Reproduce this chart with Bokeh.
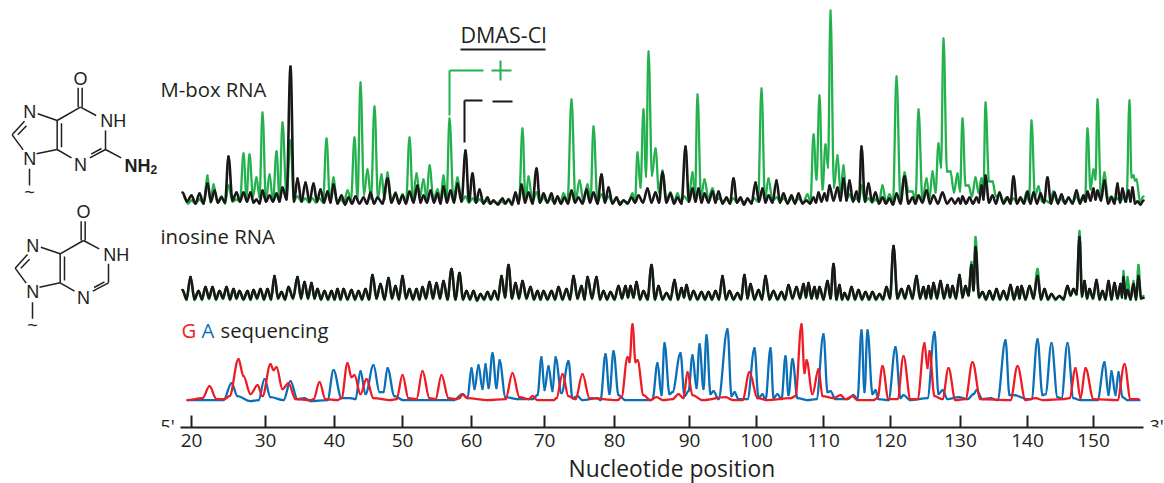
from bokeh.embed import file_html
from bokeh.resources import INLINE
from bokeh.plotting import figure
from bokeh.models import Range1d, LinearAxis, FixedTicker, Label, Title
from bokeh.core.properties import value

tick_scan = [191,265,334,402,471,544,614,689,756,823,890,960,1027,1093]
tick_labels = ["20","30","40","50","60","70","80","90","100","110","120","130","140","150"]

# (scan position, peak height, following trough height)
mbox_black = [(182,12,3),(191,9,1),(199,11,1),(207,21,3),(214,14,2),(221,7,2),(228,48,4),(236,12,3),(243,12,3),(250,12,2),(256,5,1),(262,14,3),(269,9,3),(276,11,3),(282,17,5),(290,138,3),(297,26,3),(305,22,3),(313,21,3),(320,15,2),(327,13,2),(333,20,1),(341,9,0),(348,7,1),(355,8,1),(363,7,1),(370,12,1),(377,7,1),(387,26,2),(395,11,1),(402,9,1),(409,13,2),(417,19,2),(423,9,2),(430,14,2),(437,11,1),(443,18,2),(450,14,2),(457,21,3),(465,54,3),(472,31,2),(479,15,1),(487,7,1),(493,4,0),
 (502,6,1),(508,5,0),(515,12,1),(521,20,2),(528,12,1),(536,36,2),(543,11,2),(551,11,1),(557,8,1),(564,7,1),(571,14,2),(578,7,1),(586,15,2),(593,12,1),(601,30,2),(608,17,1),(616,7,0),(623,4,1),(631,7,2),(638,9,2),(647,16,2),(655,12,2),(662,32,2),(670,11,1),(677,7,1),(685,58,3),(692,16,3),(698,16,2),(704,11,2),(712,13,2),(718,13,1),(726,7,1),(733,26,2),(740,7,0),(747,6,1),(755,22,3),(762,16,2),(768,9,2),(776,24,2),(783,11,1),(791,9,1),(798,11,1),(806,4,1),(813,7,2),(818,12,3),(824,11,4),
 (829,19,4),(837,17,4),(843,26,4),(849,24,3),(856,13,3),(861,58,3),(868,21,3),(875,12,1),(882,7,1),(889,6,0),(896,11,1),(904,28,1),(912,7,1),(918,9,2),(926,14,1),(933,9,1),(942,12,1),(951,6,1),(958,6,1),(962,8,1),(969,7,1),(976,7,2),(981,19,5),(985,29,2),(992,9,1),(999,12,1),(1007,7,1),(1013,28,1),(1020,7,1),(1027,13,1),(1033,12,1),(1040,11,2),(1047,27,1),(1054,12,1),(1061,10,1),(1068,7,1),(1076,14,1),(1083,9,3),(1087,13,4),(1093,16,5),(1097,14,4),(1104,24,1),(1111,7,1),(1117,21,2),(1122,16,3),(1128,14,3),(1132,17,1),(1137,3,0),(1143,4,3)]

mbox_green = [(184,7,1),(191,4,1),(199,5,1),(207,29,2),(213,20,2),(221,8,1),(228,19,3),(236,5,3),(243,51,8),(249,50,8),(256,27,7),(262,92,4),(269,30,4),(276,53,6),(282,82,9),(290,64,4),(297,8,3),(305,6,2),(312,6,2),(319,6,2),(326,66,3),(333,27,2),(340,5,2),(347,14,5),(354,67,6),(360,122,10),(367,35,6),(374,98,6),(381,30,5),(387,32,2),(395,12,2),(402,10,2),(409,67,3),(416,31,8),(423,25,6),(429,39,5),(437,15,5),(443,29,3),(449,86,4),(457,27,3),(465,8,2),(472,6,2),(479,5,2),(486,4,1),(493,3,1),(500,4,1),(508,5,2),(515,10,3),(522,76,3),(528,28,3),(536,12,2),(543,7,2),(550,6,2),(557,7,2),(563,11,3),(571,105,3),(579,24,3),(587,20,3),(593,78,3),(601,10,3),(608,8,2),(616,5,2),(623,4,2),(632,11,3),(637,52,17),(643,95,28),(648,153,29),(655,56,12),(662,34,5),(670,12,3),(677,11,3),(684,8,3),(692,32,8),(697,110,8),(704,25,6),(712,16,5),(719,6,3),(726,5,2),(733,6,2),(740,5,2),(747,5,2),(754,6,3),(761,116,5),(768,26,4),(776,7,3),(783,6,2),(791,6,2),(798,6,2),(807,10,3),(813,70,25),(819,109,15),(825,60,37),(830,194,17),(837,49,12),(843,39,5),(849,10,4),(856,6,3),(861,19,3),(868,6,2),(875,5,2),(882,19,3),(889,10,3),(896,128,4),(904,32,13),(912,13,3),(918,95,4),(926,26,6),(932,33,12),(938,61,37),(943,166,33),(950,33,12),(957,31,13),(962,86,19),(968,19,8),(975,27,12),(981,26,17),(985,102,23),(992,23,8),(999,10,3),(1006,7,2),(1013,6,2),(1020,5,2),(1026,12,3),(1031,84,8),(1038,18,3),(1045,4,2),(1053,13,3),(1060,6,2),(1068,6,2),(1076,8,2),(1082,7,3),(1087,76,15),(1093,35,25),(1097,105,8),(1104,32,6),(1111,8,4),(1117,6,3),(1123,8,3),(1129,104,27),(1133,29,24),(1136,25,3),(1143,8,0)]

inosine_black = [(182,10,1),(190,23,1),(198,9,1),(205,13,2),(212,13,1),(219,9,2),(226,13,1),(233,11,2),(239,9,1),(247,9,1),(253,10,2),(260,11,1),(267,11,1),(274,24,2),(281,8,1),(288,13,2),(297,23,2),(304,18,2),(311,17,2),(317,11,1),(324,9,1),(331,9,1),(337,11,1),(343,11,1),(351,10,1),(358,9,1),(365,11,1),(372,25,2),(380,16,1),(388,22,2),(395,14,1),(402,24,2),(409,11,1),(416,11,1),(422,13,2),(429,18,2),(436,17,2),(443,19,1),(451,31,1),(459,27,1),(466,9,1),(473,9,0),(480,6,1),(487,8,1),(494,9,1),(501,24,3),(508,35,2),(515,17,2),(522,19,2),(530,13,1),(537,9,1),(543,9,1),(551,9,1),(558,13,1),(566,11,1),(573,24,2),(581,14,1),(587,23,2),(596,23,1),(603,9,1),(610,8,1),(618,14,2),(625,14,3),(630,14,3),(636,18,1),(643,9,1),(651,35,1),(658,14,1),(666,7,1),(674,20,1),(681,12,3),(686,15,1),(693,9,1),(701,8,1),(708,8,1),(715,9,1),(722,24,1),(729,9,1),(737,7,1),(744,25,2),(750,16,1),(758,10,1),(765,24,1),(773,9,1),(781,8,1),(788,15,2),(796,13,2),(803,16,3),(808,17,2),(814,13,2),(819,13,1),(827,19,2),(833,36,1),(839,15,1),(844,7,1),(851,13,1),(858,10,1),(865,8,1),(872,8,1),(879,6,1),(886,13,2),(893,54,2),(901,11,2),(908,14,2),(916,24,2),(923,13,2),(928,14,2),(933,17,2),(940,19,2),(947,15,3),(952,14,2),(959,25,3),(965,14,5),(971,35,10),(975,53,3),(982,8,1),(989,9,1),(996,11,1),(1003,9,1),(1010,15,1),(1017,13,2),(1021,14,1),(1029,14,2),(1037,24,1),(1044,11,1),(1051,6,1),(1059,4,1),(1067,14,5),(1073,11,6),(1079,63,4),(1084,19,2),(1089,11,2),(1096,20,1),(1102,9,1),(1108,19,1),(1114,17,2),(1120,16,3),(1123,23,2),(1127,10,1),(1133,16,1),(1138,24,2),(1143,2,2)]

# green peaks standing above the black inosine trace
inosine_green_peaks = {971:38, 975:63, 1037:31, 1079:69, 1123:29, 1127:23, 1133:19, 1138:35, 1143:4}

seq_red = [(187,1),(202,3),(209,15),(216,2),(224,2),(229,5),(238,42),(243,25),(250,7),(257,16),(262,5),(270,37),(273,31),(276,34),(282,12),(288,18),(295,2),(310,1),(313,2),(319,19),(325,2),(337,1),(341,3),(347,38),(351,24),(354,26),(360,7),(366,22),(373,3),(390,1),(396,2),(402,26),(408,3),(416,2),(422,30),(429,3),(435,2),(441,26),(448,3),(456,2),(459,3),(462,7),(467,3),(487,1),(505,2),(512,28),(519,4),(528,2),(532,5),(537,1),(553,1),(556,3),(562,27),(568,5),(575,2),(582,27),(589,3),(617,1),(621,4),(627,44),(629,39),(632,77),(635,39),(637,41),(643,6),(650,1),(656,4),(663,1),(672,2),(678,7),(683,3),(687,29),(692,6),(702,1),(725,4),(733,1),(742,1),(749,29),(757,3),(767,1),(790,3),(795,5),(801,77),(804,28),(806,41),(812,7),(818,32),(822,5),(833,3),(840,6),(845,2),(852,5),(857,1),(873,1),(877,3),(882,35),(888,2),(897,2),(903,45),(910,2),(917,2),(924,58),(927,33),(929,50),(934,5),(942,2),(948,33),(955,1),(965,2),(972,39),(980,2),(1010,1),(1017,35),(1025,1),(1035,3),(1043,1),(1063,2),(1069,3),(1075,33),(1080,3),(1085,33),(1093,2),(1117,1),(1124,37),(1130,2),(1138,2)]

seq_blue = [(187,1),(203,1),(223,1),(231,18),(237,5),(250,0),(258,1),(264,22),(270,4),(283,1),(290,20),(297,2),(304,3),(310,0),(327,1),(333,31),(341,3),(350,3),(355,2),(360,30),(365,7),(373,36),(379,9),(383,9),(387,33),(394,5),(403,1),(453,1),(462,7),(467,3),(471,33),(474,12),(478,36),(482,12),(485,37),(488,13),(492,48),(496,13),(499,41),(505,4),(517,2),(532,2),(537,6),(541,44),(544,11),(548,35),(552,10),(555,44),(561,8),(568,40),(572,3),(577,5),(582,1),(597,3),(600,1),(605,47),(609,7),(613,50),(618,6),(625,1),(650,1),(652,2),(657,38),(661,6),(664,58),(669,7),(672,9),(680,48),(684,5),(688,10),(692,46),(696,13),(699,57),(703,12),(706,66),(710,7),(713,10),(718,2),(727,72),(731,5),(734,9),(738,2),(747,2),(754,53),(758,3),(762,7),(765,1),(770,53),(773,3),(777,7),(781,2),(785,45),(788,6),(792,42),(797,3),(807,1),(816,2),(823,67),(827,9),(830,10),(835,2),(847,2),(853,6),(857,2),(861,71),(864,9),(867,71),(872,7),(875,11),(878,2),(888,1),(895,54),(900,3),(903,6),(910,1),(927,3),(934,69),(938,7),(942,11),(947,2),(958,4),(967,2),(973,7),(976,11),(982,2),(990,3),(997,1),(1005,61),(1009,6),(1014,6),(1027,2),(1031,2),(1037,62),(1042,6),(1045,7),(1051,58),(1057,4),(1061,3),(1067,58),(1073,3),(1080,1),(1097,1),(1104,39),(1108,6),(1111,30),(1115,6),(1118,29),(1122,4),(1127,1),(1133,1),(1139,1)]

BLACK, GREEN, RED, BLUE, INK = "#1a1718", "#22b14c", "#ed1c24", "#0b6fb8", "#231f20"
SANS = "Open Sans"
CHEM = "Liberation Sans"

def weave(rows):
    xs, ys = [], []
    for i, (x, top, low) in enumerate(rows):
        xs.append(x); ys.append(top)
        if i + 1 < len(rows):
            xs.append((x + rows[i + 1][0]) / 2); ys.append(low)
    return xs, ys

W, FRAME_BOTTOM = 1164, 427   # the page shows the figure at its own origin
p = figure(frame_width=W, frame_height=FRAME_BOTTOM, output_backend="svg", toolbar_location=None,
           x_range=Range1d(0, W), y_range=Range1d(FRAME_BOTTOM, 0),
           x_axis_location=None, y_axis_location=None,
           min_border_left=0, min_border_right=0, min_border_top=0, min_border_bottom=0)
p.grid.visible = False
p.outline_line_color = None
p.background_fill_color = "white"

def panel(name, base):
    p.extra_y_ranges[name] = Range1d(-(FRAME_BOTTOM - base), base)

panel("mbox", 204); panel("inosine", 299.5); panel("seq", 400.7)

def trace(xs, ys, color, rng, w):
    # each span between read points is a flat-tangent cubic, so peaks are rounded as in the scan
    x0, x1, y0, y1 = xs[:-1], xs[1:], ys[:-1], ys[1:]
    cx0 = [a + (b - a) * 0.36 for a, b in zip(x0, x1)]
    cx1 = [b - (b - a) * 0.36 for a, b in zip(x0, x1)]
    p.bezier(x0=x0, y0=y0, x1=x1, y1=y1, cx0=cx0, cy0=y0, cx1=cx1, cy1=y1,
             line_color=color, line_width=w, line_cap="round", y_range_name=rng)

gx, gy = weave(mbox_green); trace(gx, gy, GREEN, "mbox", 2.3)
bx, by = weave(mbox_black); trace(bx, by, BLACK, "mbox", 2.6)

ig = [(x, inosine_green_peaks.get(x, t), max(l - 1, -1)) for x, t, l in inosine_black]
gx, gy = weave(ig); trace(gx, gy, GREEN, "inosine", 2.4)
bx, by = weave(inosine_black); trace(bx, by, BLACK, "inosine", 2.6)

trace([a for a, _ in seq_blue], [b for _, b in seq_blue], BLUE, "seq", 2.3)
trace([a for a, _ in seq_red], [b for _, b in seq_red], RED, "seq", 2.3)

# axis
ax = LinearAxis(ticker=FixedTicker(ticks=tick_scan),
                major_label_overrides=dict(zip(tick_scan, tick_labels)),
                bounds=(180, 1143))
ax.axis_line_color = INK; ax.axis_line_width = 2
ax.major_tick_line_color = INK; ax.major_tick_line_width = 2
ax.major_tick_in = 12; ax.major_tick_out = 0
ax.minor_tick_line_color = None
ax.major_label_text_font = SANS; ax.major_label_text_font_size = "19px"; ax.major_label_text_color = INK
ax.major_label_standoff = 6
p.add_layout(ax, "below")
p.add_layout(Title(text="Nucleotide position", align="left", offset=568, standoff=2,
                   text_font=SANS, text_font_size="22.8px", text_font_style="normal",
                   text_color=INK), "below")

def txt(x, y, s, size, color=INK, font=SANS, style="normal", align="left"):
    p.text([x], [y], text=[s], text_font=value(font), text_font_size=size, text_color=color,
           text_font_style=style, text_align=align, text_baseline="middle")

txt(160, 88, "M-box RNA", "20.3px")
txt(160, 235, "inosine RNA", "20.3px")
txt(181, 329, "G", "20.3px", RED)
txt(201, 329, "A", "20.3px", BLUE)
txt(220, 329, "sequencing", "20.3px")
txt(503, 34, "DMAS-Cl", "21.5px", align="center")
for (x, s) in [(160, "5'"), (1149, "3'")]:
    p.add_layout(Label(x=x, y=425, text=s, text_font=SANS, text_font_size="18px", text_color=INK,
                       text_baseline="middle", level="overlay"))

def seg(pairs, color, w):
    p.segment([a[0] for a in pairs], [a[1] for a in pairs], [a[2] for a in pairs], [a[3] for a in pairs],
              line_color=color, line_width=w)

# DMAS-Cl key
seg([(460, 49, 545, 49)], INK, 2)
seg([(449, 70, 449, 115), (449, 70, 483, 70), (491, 70, 511, 70), (500, 60, 500, 80)], GREEN, 2)
seg([(464, 100, 464, 142), (464, 100, 482, 100), (492, 101, 512, 101)], BLACK, 2)

# purine rings, read in zoom units (3x, y offset 50)
ring = [(233,112,233,170),(245,112,245,170),(240,170,287,195),(240,170,170,210),(170,210,112,190),
        (72,212,35,253),(78,226,52,253),(35,253,68,298),(108,310,170,297),(170,210,170,297),(183,218,183,290),
        (170,297,213,322),(268,322,315,297),(272,311,303,294),(315,297,315,240),(87,355,87,405)]
def rings(dx, dy, extra=()):
    rows = list(ring) + list(extra)
    seg([((a + dx) / 3, 50 + (b + dy) / 3, (c + dx) / 3, 50 + (d + dy) / 3) for a, b, c, d in rows], INK, 1.5)
    for a, b, s in [(240, 85, "O"), (88, 185, "N"), (338, 212, "NH"), (88, 325, "N"), (240, 342, "N")]:
        txt((a + dx) / 3, 50 + (b + dy) / 3, s, "18px", font=CHEM, align="center")
    txt((87 + dx) / 3, 50 + (424 + dy) / 3, "~", "18px", font=CHEM, align="center")

rings(0, 0, [(315, 297, 362, 322)])
txt(124, 165, "NH", "18px", font=CHEM, style="bold")
txt(150, 169, "2", "12px", font=CHEM, style="bold")
rings(9, 400)

open("out.html", "w").write(file_html(p, INLINE))
